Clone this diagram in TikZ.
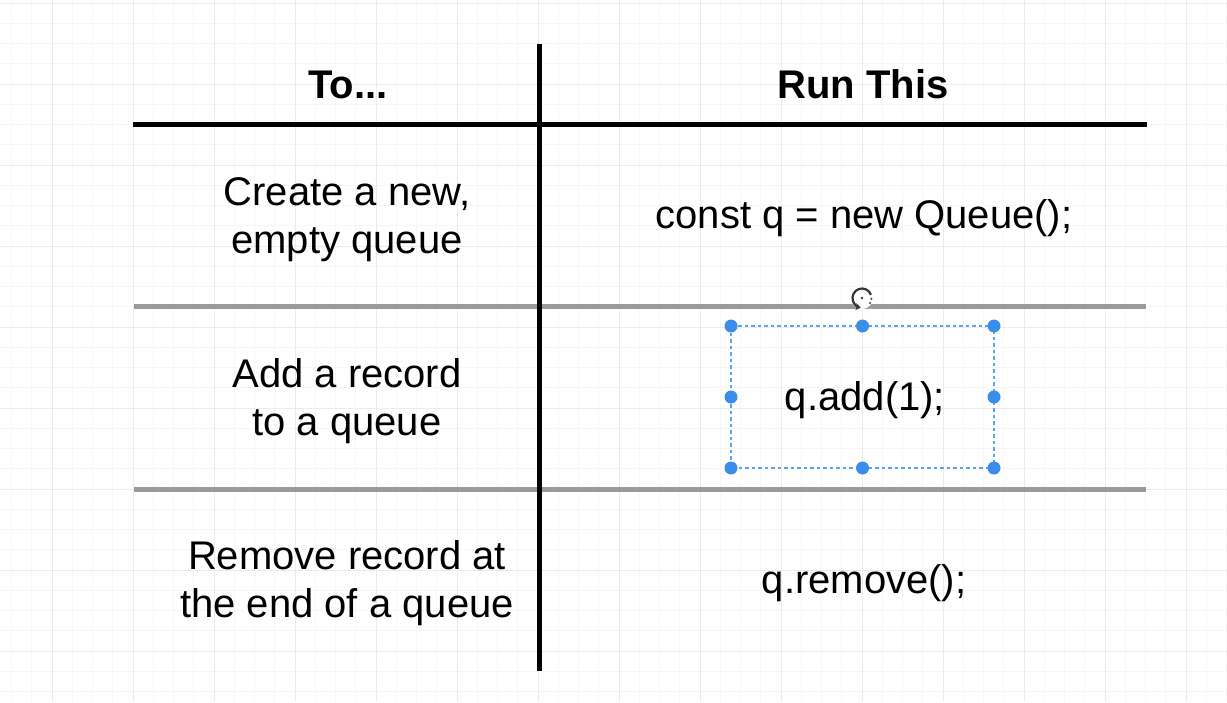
\documentclass[tikz,border=0pt]{standalone}
\usepackage{fontspec}
\setmainfont{Liberation Sans}
\usetikzlibrary{arrows.meta}
\definecolor{gridminor}{HTML}{F7F7F7}
\definecolor{gridmajor}{HTML}{ECECEC}
\definecolor{rulegray}{HTML}{9A9A9A}
\definecolor{selblue}{HTML}{3A8EEA}
\definecolor{seldash}{HTML}{5AA5EE}
\definecolor{iconc}{HTML}{333333}
\tikzset{
  cell/.style={anchor=base, align=center, inner sep=0pt, font=\fontsize{40}{48}\selectfont},
  head/.style={cell, font=\fontsize{40}{48}\selectfont\bfseries},
  blackrule/.style={line width=5pt, black},
  grayrule/.style={line width=5pt, rulegray},
  selbox/.style={seldash, line width=1.3pt, dash pattern=on 3.5pt off 3pt},
  handle/.style={circle, fill=selblue, inner sep=0pt, minimum size=13pt},
}
\begin{document}
\begin{tikzpicture}[x=1pt, y=-1pt]
\useasboundingbox (0,0) rectangle (1227,702);
\fill[white] (0,0) rectangle (1227,702);
\begin{scope}
\clip (0,0) rectangle (1227,702);
\foreach \k in {-2,...,60} {
  \draw[gridminor, line width=1pt] ({52+20.25*\k},0) -- ({52+20.25*\k},702);
}
\foreach \k in {0,...,35} {
  \draw[gridminor, line width=1pt] (0,{3+20.25*\k}) -- (1227,{3+20.25*\k});
}
\foreach \k in {-1,...,15} {
  \draw[gridmajor, line width=1pt] ({52+81*\k},0) -- ({52+81*\k},702);
}
\foreach \k in {0,...,8} {
  \draw[gridmajor, line width=1pt] (0,{3+81*\k}) -- (1227,{3+81*\k});
}
\end{scope}

% table rules
\coordinate (g1l) at (134,306);
\coordinate (g1r) at (1146,306);
\coordinate (g2l) at (134,489);
\coordinate (g2r) at (1146,489);
\coordinate (hl) at (133,124);
\coordinate (hr) at (1147,124);
\coordinate (vt) at (539,44);
\coordinate (vb) at (539,671);
\draw[grayrule] (g1l) -- (g1r);
\draw[grayrule] (g2l) -- (g2r);
\draw[blackrule] (hl) -- (hr);
\draw[blackrule] (vt) -- (vb);

% headings
\node[head] (to) at (348,98) {To...};
\node[head] (run) at (863,98) {Run This};

% cells (anchor base = baseline of last line)
\node[cell] (c1l) at (347,253) {Create a new,\\empty queue};
\node[cell] (c1r) at (864,228) {const q = new Queue();};
\node[cell] (c2l) at (347,435) {Add a record\\to a queue};
\node[cell] (c2r) at (865,410) {q.add(1);};
\node[cell] (c3l) at (347,617) {Remove record at\\the end of a queue};
\node[cell] (c3r) at (864,593) {q.remove();};

% selection box
\coordinate (s1) at (731,326);
\coordinate (s2) at (862.5,326);
\coordinate (s3) at (994,326);
\coordinate (s4) at (994,397);
\coordinate (s5) at (994,468);
\coordinate (s6) at (862.5,468);
\coordinate (s7) at (731,468);
\coordinate (s8) at (731,397);
\draw[selbox] (s1) rectangle (s5);
\foreach \h in {s1,s2,s3,s4,s5,s6,s7,s8} {
  \node[handle] (h-\h) at (\h) {};
}

% rotate icon
\coordinate (rot) at (862,298);
\fill[white] (rot) circle (11);
\draw[iconc, line width=2.2pt, -{Stealth[length=5pt,width=7pt]}] ([shift={(-20:9.5)}]rot) arc[start angle=-20, end angle=-262, radius=9.5];
\fill[iconc] (rot) circle (1.3);
\fill[iconc] ([shift={(5:9.5)}]rot) circle (1.1);
\fill[iconc] ([shift={(32:9.5)}]rot) circle (1.1);
\end{tikzpicture}
\end{document}
